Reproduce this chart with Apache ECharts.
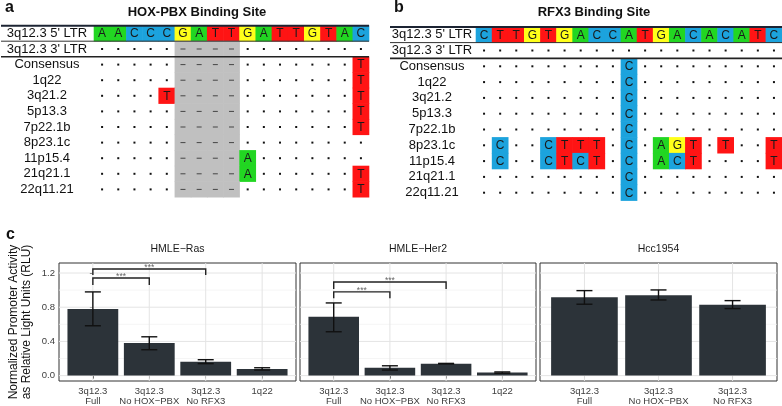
<!DOCTYPE html>
<html><head><meta charset="utf-8">
<script src="https://cdn.jsdelivr.net/npm/echarts@6/dist/echarts.min.js"></script>
<style>html,body{margin:0;padding:0;background:#fff}#c{width:782px;height:406px}</style>
</head><body><div id="c"></div>
<script>
// ---------- Panel a: HOX-PBX binding site ----------
const hoxRef = ['A','A','C','C','C','G','A','T','T','G','A','T','T','G','T','A','C'];
const hoxRowLabels = ["3q12.3 5' LTR","3q12.3 3' LTR","Consensus","1q22","3q21.2","5p13.3","7p22.1b","8p23.1c","11p15.4","21q21.1","22q11.21"];
const hoxAligned = [
  '.....----........',
  '.....----.......T',
  '.....----.......T',
  '....T----.......T',
  '.....----.......T',
  '.....----.......T',
  '.....----........',
  '.....----A.......',
  '.....----A......T',
  '.....----.......T'
];
// ---------- Panel b: RFX3 binding site ----------
const rfxRef = ['C','T','T','G','T','G','A','C','C','A','T','G','A','C','A','C','A','T','C'];
const rfxRowLabels = ["3q12.3 5' LTR","3q12.3 3' LTR","Consensus","1q22","3q21.2","5p13.3","7p22.1b","8p23.1c","11p15.4","21q21.1","22q11.21"];
const rfxAligned = [
  '...................',
  '.........C.........',
  '.........C.........',
  '.........C.........',
  '.........C.........',
  '.........C.........',
  '.C..CTTT.C.AGT.T..T',
  '.C..CTCT.C.ACT....T',
  '.........C.........',
  '.........C.........'
];
// ---------- Panel c: promoter activity ----------
const rasCats  = ['3q12.3\nFull','3q12.3\nNo HOX\u2212PBX','3q12.3\nNo RFX3','1q22'];
const rasMean  = [0.78, 0.381, 0.163, 0.078];
const rasLow   = [0.583, 0.303, 0.14, 0.065];
const rasHigh  = [0.979, 0.454, 0.186, 0.092];
const rasSig   = [[0, 2, 1.247, 1.177, '***'], [0, 1, 1.142, 1.06, '***']];

const her2Cats = ['3q12.3\nFull','3q12.3\nNo HOX\u2212PBX','3q12.3\nNo RFX3','1q22'];
const her2Mean = [0.687, 0.093, 0.14, 0.035];
const her2Low  = [0.513, 0.065, 0.137, 0.028];
const her2High = [0.85, 0.115, 0.143, 0.043];
const her2Sig  = [[0, 2, 1.095, 1.014, '***'], [0, 1, 0.979, 0.905, '***']];

const hccCats  = ['3q12.3\nFull','3q12.3\nNo HOX\u2212PBX','3q12.3\nNo RFX3'];
const hccMean  = [0.917, 0.94, 0.83];
const hccLow   = [0.835, 0.885, 0.784];
const hccHigh  = [0.994, 1.002, 0.877];
const hccSig   = [];

const panelTitles = ['HMLE\u2212Ras', 'HMLE\u2212Her2', 'Hcc1954'];
const yTicks = [0, 0.4, 0.8, 1.2];
const yMinor = [0.2, 0.6, 1.0];

const FONT = "'Liberation Sans', Arial, Helvetica, sans-serif";
const BASE = {A:'#22d622', C:'#1ca3dd', G:'#ffff1a', T:'#ff1414', '-':'#c0c0c0'};

function seqCells(ref, rows) {
  const out = [];
  [ref.join('')].concat(rows).forEach((s, r) => {
    for (let c = 0; c < s.length; c++) out.push({c: c, r: r, ch: s[c]});
  });
  return out;
}
const hoxCells = seqCells(hoxRef, hoxAligned);
const rfxCells = seqCells(rfxRef, rfxAligned);

function seqRender(cells) {
  return function (params, api) {
    const d = cells[params.dataIndex];
    const p = api.coord([d.c, d.r]);
    const s = api.size([1, 1]);
    const w = s[0], h = s[1];
    const kids = [];
    const fill = BASE[d.ch];
    if (fill) kids.push({type:'rect', shape:{x:p[0]-w/2-0.3, y:p[1]-h/2-0.3, width:w+0.6, height:h+0.6}, style:{fill:fill}});
    if (/[ACGT]/.test(d.ch)) {
      kids.push({type:'text', x:p[0], y:p[1]+0.5, style:{text:d.ch, align:'center', verticalAlign:'middle', fontSize:12, fontFamily:FONT, fill:'#1a1a1a'}});
    } else if (d.ch === '.') {
      kids.push({type:'rect', shape:{x:p[0]-1, y:p[1]-1, width:2, height:2}, style:{fill:'#111'}});
    } else if (d.ch === '-') {
      kids.push({type:'rect', shape:{x:p[0]-2.5, y:p[1]-0.5, width:5, height:1}, style:{fill:'#444'}});
    }
    return {type:'group', children:kids};
  };
}

const panels = [
  {cats: rasCats, mean: rasMean, low: rasLow, high: rasHigh, sig: rasSig, left: 59, width: 237},
  {cats: her2Cats, mean: her2Mean, low: her2Low, high: her2High, sig: her2Sig, left: 300, width: 236},
  {cats: hccCats, mean: hccMean, low: hccLow, high: hccHigh, sig: hccSig, left: 540, width: 237}
];

const grids = [
  {left: 94, top: 25.6, width: 275, height: 171.6, show: false},
  {left: 476, top: 26.8, width: 306, height: 173.8, show: false}
];
const xAxes = [
  {gridIndex: 0, type: 'category', data: hoxRef.map((_, i) => i), show: false},
  {gridIndex: 1, type: 'category', data: rfxRef.map((_, i) => i), show: false}
];
const seqYAxis = (gi, labels, margin) => ({
  gridIndex: gi, type: 'category', data: labels, inverse: true,
  axisLine: {show: false}, axisTick: {show: false}, splitLine: {show: false},
  axisLabel: {interval: 0, margin: margin, align: 'center', fontSize: 13, fontFamily: FONT, color: '#111'}
});
const yAxes = [seqYAxis(0, hoxRowLabels, 47), seqYAxis(1, rfxRowLabels, 44)];

const series = [
  {type: 'custom', xAxisIndex: 0, yAxisIndex: 0, renderItem: seqRender(hoxCells), data: hoxCells.map(d => [d.c, d.r]), silent: true, z: 2},
  {type: 'custom', xAxisIndex: 1, yAxisIndex: 1, renderItem: seqRender(rfxCells), data: rfxCells.map(d => [d.c, d.r]), silent: true, z: 2}
];

panels.forEach((P, k) => {
  const gi = k + 2;
  const n = P.cats.length;
  const ticksX = P.cats.map((_, i) => i);
  grids.push({left: P.left, top: 263, width: P.width, height: 118, show: true, borderColor: '#333', borderWidth: 1, backgroundColor: '#fff'});
  xAxes.push({
    gridIndex: gi, type: 'value', min: -0.6, max: n - 0.4,
    axisLine: {show: false}, splitLine: {show: false},
    axisTick: {show: true, length: 3, customValues: ticksX, lineStyle: {color: '#333', width: 1}},
    axisLabel: {customValues: ticksX, formatter: v => P.cats[Math.round(v)], fontSize: 9.5, lineHeight: 10, fontFamily: FONT, color: '#3d3d3d', margin: 5}
  });
  yAxes.push({
    gridIndex: gi, type: 'value', min: -0.063, max: 1.317,
    axisLine: {show: false}, splitLine: {show: false},
    axisTick: {show: k === 0, length: 3, customValues: yTicks, lineStyle: {color: '#333', width: 1}},
    axisLabel: {show: k === 0, customValues: yTicks, formatter: v => v.toFixed(1), fontSize: 9.5, fontFamily: FONT, color: '#3d3d3d', margin: 4},
    name: k === 0 ? 'Normalized Promoter Activity\nas Relative Light Units (RLU)' : '',
    nameLocation: 'middle', nameRotate: 90, nameGap: 26,
    nameTextStyle: {fontSize: 12, lineHeight: 13, fontFamily: FONT, color: '#111'}
  });
  // gridlines
  const lines = [];
  yTicks.forEach(v => lines.push({h: true, v: v, major: true}));
  yMinor.forEach(v => lines.push({h: true, v: v, major: false}));
  ticksX.forEach(v => lines.push({h: false, v: v, major: true}));
  series.push({
    type: 'custom', xAxisIndex: gi, yAxisIndex: gi, silent: true, z: 1,
    data: lines.map(l => l.h ? [0, l.v] : [l.v, 0]),
    renderItem: (params, api) => {
      const l = lines[params.dataIndex];
      const cs = params.coordSys;
      const st = {stroke: l.major ? '#e4e4e4' : '#f1f1f1', lineWidth: l.major ? 1 : 0.7};
      if (l.h) {
        const y = api.coord([0, l.v])[1];
        return {type: 'line', shape: {x1: cs.x, y1: y, x2: cs.x + cs.width, y2: y}, style: st};
      }
      const x = api.coord([l.v, 0])[0];
      return {type: 'line', shape: {x1: x, y1: cs.y, x2: x, y2: cs.y + cs.height}, style: st};
    }
  });
  // bars
  series.push({
    type: 'custom', xAxisIndex: gi, yAxisIndex: gi, silent: true, z: 2,
    data: P.mean.map((m, i) => [i, m]),
    renderItem: (params, api) => {
      const x = api.value(0), m = api.value(1);
      const p1 = api.coord([x - 0.45, m]);
      const p2 = api.coord([x + 0.45, 0]);
      return {type: 'rect', shape: {x: p1[0], y: p1[1], width: p2[0] - p1[0], height: p2[1] - p1[1]}, style: {fill: '#2c3339'}};
    }
  });
  // error bars
  series.push({
    type: 'custom', xAxisIndex: gi, yAxisIndex: gi, silent: true, z: 3,
    data: P.mean.map((m, i) => [i, P.low[i], P.high[i]]),
    renderItem: (params, api) => {
      const x = api.value(0);
      const lo = api.coord([x, api.value(1)]);
      const hi = api.coord([x, api.value(2)]);
      const st = {stroke: '#111', lineWidth: 1.4};
      return {type: 'group', children: [
        {type: 'line', shape: {x1: lo[0], y1: lo[1], x2: hi[0], y2: hi[1]}, style: st},
        {type: 'line', shape: {x1: lo[0] - 8, y1: lo[1], x2: lo[0] + 8, y2: lo[1]}, style: st},
        {type: 'line', shape: {x1: hi[0] - 8, y1: hi[1], x2: hi[0] + 8, y2: hi[1]}, style: st}
      ]};
    }
  });
  // significance brackets
  if (P.sig.length) {
    series.push({
      type: 'custom', xAxisIndex: gi, yAxisIndex: gi, silent: true, z: 4,
      data: P.sig.map(s => [s[0], s[2]]),
      renderItem: (params, api) => {
        const s = P.sig[params.dataIndex];
        const a1 = api.coord([s[0], s[3]]), a2 = api.coord([s[0], s[2]]);
        const b2 = api.coord([s[1], s[2]]), b1 = api.coord([s[1], s[3]]);
        return {type: 'group', children: [
          {type: 'polyline', shape: {points: [a1, a2, b2, b1]}, style: {stroke: '#222', lineWidth: 1.4, fill: null}},
          {type: 'text', x: (a2[0] + b2[0]) / 2, y: a2[1] + 3, style: {text: s[4], align: 'center', verticalAlign: 'bottom', fontSize: 8.5, fontFamily: FONT, fill: '#666'}}
        ]};
      }
    });
  }
});

const titles = [
  {text: 'a', left: 5, top: 0},
  {text: 'b', left: 394, top: 0},
  {text: 'c', left: 6, top: 227}
].map(t => Object.assign(t, {padding: 0, textStyle: {fontSize: 16, fontWeight: 'bold', color: '#111', fontFamily: FONT}}));
titles.push({text: 'HOX-PBX Binding Site', left: 197, top: 6, textAlign: 'center', padding: 0, textStyle: {fontSize: 13, fontWeight: 'bold', color: '#111', fontFamily: FONT}});
titles.push({text: 'RFX3 Binding Site', left: 594, top: 6, textAlign: 'center', padding: 0, textStyle: {fontSize: 13, fontWeight: 'bold', color: '#111', fontFamily: FONT}});
panels.forEach((P, k) => titles.push({text: panelTitles[k], left: P.left + P.width / 2, top: 244, textAlign: 'center', padding: 0, textStyle: {fontSize: 10.5, fontWeight: 'normal', color: '#1a1a1a', fontFamily: FONT}}));

const rule = (x1, x2, y, w, c) => ({type: 'line', z: 100, silent: true, shape: {x1: x1, y1: y, x2: x2, y2: y}, style: {stroke: c, lineWidth: w}});
const graphics = [
  rule(1, 369, 25.8, 2, '#1c2433'), rule(1, 369, 41.2, 1, '#333'), rule(1, 369, 56.8, 1.6, '#222'),
  rule(390, 782, 27.0, 2, '#1c2433'), rule(390, 782, 42.6, 1, '#333'), rule(390, 782, 58.4, 1.6, '#222')
];

const chart = echarts.init(document.getElementById('c'), null, {renderer: 'canvas'});
chart.setOption({
  animation: false,
  backgroundColor: '#fff',
  title: titles,
  grid: grids,
  xAxis: xAxes,
  yAxis: yAxes,
  series: series,
  graphic: graphics
});
</script></body></html>
